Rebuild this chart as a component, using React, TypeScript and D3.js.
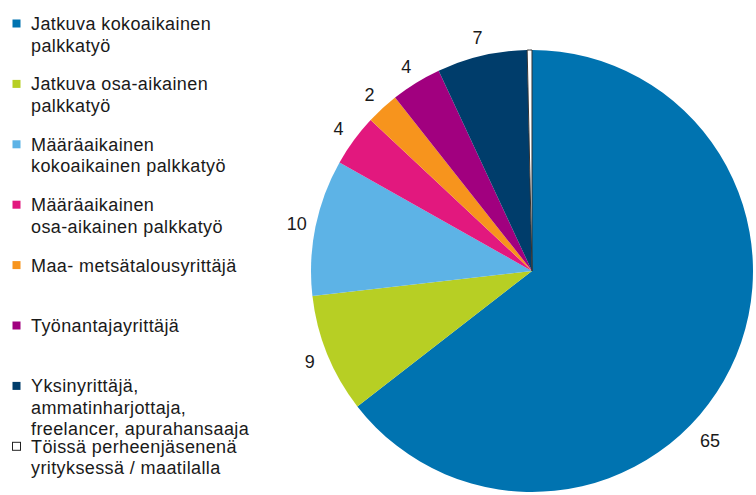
import React from "react";
import * as d3 from "d3";

// shares (%), clockwise from 12 o'clock
const categories = [
  ["Jatkuva kokoaikainen", "palkkatyö"],
  ["Jatkuva osa-aikainen", "palkkatyö"],
  ["Määräaikainen", "kokoaikainen palkkatyö"],
  ["Määräaikainen", "osa-aikainen palkkatyö"],
  ["Maa- metsätalousyrittäjä"],
  ["Työnantajayrittäjä"],
  ["Yksinyrittäjä,", "ammatinharjottaja,", "freelancer, apurahansaaja"],
  ["Töissä perheenjäsenenä", "yrityksessä / maatilalla"],
];
const values = [64.6, 8.7, 10.0, 3.8, 2.4, 3.7, 6.6, 0.35];
const showLabel = [true, true, true, true, true, true, true, false];
const colors = ["#0073b0", "#b7cf24", "#5db3e6", "#e2187e", "#f7941d", "#a1007f", "#003d6b", "#ffffff"];

const W = 756, H = 495;

export default function App() {
  const cx = 532, cy = 271, r = 221;
  const labelR = 240;
  const font = "'Liberation Sans', Arial, sans-serif";

  const pie = d3.pie<number>().sort(null).value(d => d);
  const arcs = pie(values);
  const arc = d3.arc<d3.PieArcDatum<number>>().innerRadius(0).outerRadius(r);
  const fmt = d3.format(".0f");

  const legendY = d3.scaleLinear().domain([0, 1]).range([30, 90.4]);
  const lineH = 21.5;

  return (
    <svg width={W} height={H} style={{ position: "absolute", left: 0, top: 0 }}>
      <rect width={W} height={H} fill="#fff" />
      <g transform={`translate(${cx},${cy})`}>
        {arcs.map((a, i) => (
          <path key={i} d={arc(a) || ""} fill={colors[i]}
            stroke={colors[i] === "#ffffff" ? "#333" : "none"} strokeWidth={1} />
        ))}
        {arcs.map((a, i) => {
          if (!showLabel[i]) return null;
          let ang = (a.startAngle + a.endAngle) / 2;
          let lr = labelR;
          let x = lr * Math.sin(ang);
          const maxX = W - 46 - cx;
          // slide label along the circle if it would leave the chart
          if (x > maxX) {
            lr = labelR + 6;
            ang = Math.PI - Math.asin(maxX / lr);
            x = lr * Math.sin(ang);
          }
          const y = -lr * Math.cos(ang);
          return (
            <text key={i} x={x} y={y} dy="0.35em" textAnchor="middle"
              fontFamily={font} fontSize={18} fill="#1a1a1a">{fmt(a.data)}</text>
          );
        })}
      </g>
      <g>
        {categories.map((lines, i) => {
          const by = legendY(i);
          return (
            <g key={i}>
              <rect x={12.5} y={by - 10.5} width={8} height={8}
                fill={colors[i]} stroke={colors[i] === "#ffffff" ? "#222" : "none"} strokeWidth={1} />
              <text x={31} y={by} fontFamily={font} fontSize={18} letterSpacing={0.4} fill="#1a1a1a">
                {lines.map((l, j) => (
                  <tspan key={j} x={31} y={by + j * lineH}>{l}</tspan>
                ))}
              </text>
            </g>
          );
        })}
      </g>
    </svg>
  );
}
